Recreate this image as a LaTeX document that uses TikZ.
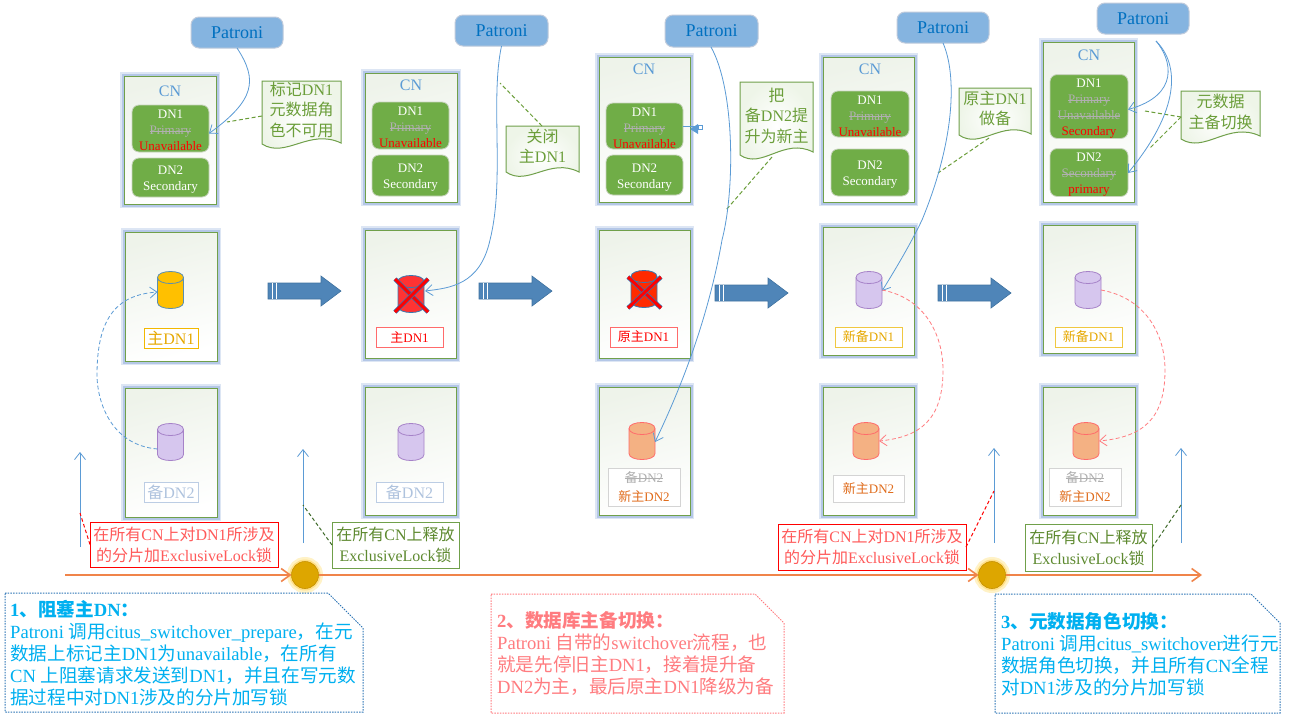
\documentclass[tikz,border=0pt]{standalone}
\usepackage{fontspec}
\setmainfont{Liberation Serif}
\newfontfamily\cjkf{Noto Sans CJK SC}
\usetikzlibrary{arrows.meta,calc}
\newcommand\cj[1]{{\cjkf #1}}
\newcommand\strk[1]{\leavevmode\setbox0=\hbox{#1}\rlap{\raisebox{0.24em}{\rule{\wd0}{0.07em}}}\box0\relax}
\newcommand\dnstrut{\rule{0pt}{13pt}}
\newcommand\bx[7]{\node[#1,minimum width={(#5-#3)*1pt},minimum height={(#6-#4)*1pt},inner sep=0pt,outer sep=0pt] (#2) at ({(#3+#5)/2},{(#4+#6)/2}) {#7};}
\newcommand\hx[1]{\definecolor{#1}{HTML}{#1}}
\hx{EEF3EA}\hx{FAFBF9}\hx{85B4E0}\hx{BFCBDC}\hx{0070C0}\hx{C8D4BE}\hx{EEF5E8}\hx{3F72A0}\hx{DDA600}\hx{C49000}\hx{FFE9A0}\hx{FFE08A}\hx{2E75B6}\hx{5B8FB0}\hx{FFC000}\hx{A682C8}\hx{D6C6EE}\hx{3A78B0}\hx{FF3333}\hx{FF2A00}\hx{FF6B6B}\hx{F4B183}\hx{F2B800}\hx{E6A800}\hx{BCCDE4}\hx{AFC3DE}\hx{D4D4D4}\hx{E06C1C}\hx{F0C840}\hx{FF5A5A}\hx{5E8A30}
\definecolor{glow}{HTML}{B4C7E7}
\definecolor{pgreen}{HTML}{70A04A}
\definecolor{dngreen}{HTML}{70AD47}
\definecolor{notetxt}{HTML}{6B9E3A}
\definecolor{linkblue}{HTML}{5B9BD5}
\definecolor{pink}{HTML}{FF7C80}
\definecolor{sky}{HTML}{00B0F0}
\definecolor{strikegray}{HTML}{B0B0B0}
\definecolor{orangeline}{HTML}{F0844A}
\definecolor{arrowblue}{HTML}{4F85B8}
\definecolor{deepgreen}{HTML}{3F6B2A}
\tikzset{
 panel/.style={draw=pgreen,line width=1pt,top color=EEF3EA,middle color=FAFBF9,bottom color=white,shading angle=15,
   preaction={draw=glow!45,line width=8.5pt},preaction={draw=glow,line width=5pt}},
 patroni/.style={rounded corners=8pt,fill=85B4E0,draw=BFCBDC,line width=1pt,text=0070C0,
   font=\fontsize{18}{20}\selectfont},
 dnbox/.style={rounded corners=7pt,fill=dngreen,draw=C8D4BE,line width=.8pt,text=white,align=center,
   font=\fontsize{13}{16}\selectfont},
 cntext/.style={text=linkblue,font=\fontsize{16}{18}\selectfont,inner sep=0pt},
 lbl/.style={line width=1pt,fill=white,align=center,font=\fontsize{13}{19}\selectfont},
 cylbase/.style={minimum width=26pt,minimum height=37pt,inner sep=0pt,outer sep=0pt},
 lock/.style={line width=1pt,fill=white,align=center,font=\fontsize{16}{21}\selectfont},
 link/.style={draw=linkblue,line width=.8pt,-{Straight Barb[length=7pt,width=11pt]}},
 leader/.style={draw=notetxt,line width=1pt,dash pattern=on 4pt off 2.5pt},
 bigarrow/.style={fill=arrowblue,draw=3F72A0,line width=.6pt},
 notebox/.style={draw=pgreen,line width=1pt,inner color=white,outer color=EEF5E8},
 notetext/.style={text=notetxt,align=center,inner sep=0pt,font=\fontsize{16}{20.5}\selectfont},
 callout/.style={line width=1pt,dash pattern=on 1.5pt off 1.2pt},
 callouttext/.style={align=left,anchor=north west,inner sep=0pt,font=\fontsize{18.6}{22}\selectfont},
 timeline/.style={draw=orangeline,line width=1.6pt,-{Straight Barb[length=9pt,width=13pt]}},
 stopdot/.style={circle,fill=DDA600,draw=C49000,line width=.6pt,minimum size=27pt,inner sep=0pt,outer sep=0pt,
   preaction={draw=FFE9A0!60,line width=9pt},preaction={draw=FFE08A,line width=4pt}},
 cross/.style={draw=red,line width=3pt,preaction={draw=2E75B6,line width=4.4pt}},
}
\newcommand\note[7]{\draw[notebox] (#2,#3) -- (#4,#3) -- (#4,#6) .. controls ({#4-0.4*(#4-#2)},{#6-15}) and ({#2+0.3*(#4-#2)},{#5+15}) .. (#2,#5) -- cycle;
 \node[notetext] (#1) at ({(#2+#4)/2},{(#3+#5)/2-3}) {#7};}
% name, cx, cy, fill, stroke
\newcommand\cyl[5]{\node[cylbase] (#1) at (#2,#3) {};
 \draw[draw=#5,fill=#4,line width=.8pt] ({#2-13},{#3-12.5}) -- ({#2-13},{#3+12.5}) .. controls ({#2-13},{#3+20.5}) and ({#2+13},{#3+20.5}) .. ({#2+13},{#3+12.5}) -- ({#2+13},{#3-12.5}) .. controls ({#2+13},{#3-20.5}) and ({#2-13},{#3-20.5}) .. cycle;
 \draw[draw=#5,line width=.8pt] ({#2-13},{#3-12.5}) .. controls ({#2-13},{#3-4.5}) and ({#2+13},{#3-4.5}) .. ({#2+13},{#3-12.5});}
\begin{document}
\begin{tikzpicture}[x=1pt,y=-1pt]
\useasboundingbox (0,0) rectangle (1289,718);
\fill[white] (0,0) rectangle (1289,718);

% Patroni
\bx{patroni}{p1}{191}{17}{283}{48}{Patroni\hspace{4pt}}
\bx{patroni}{p2}{455}{15}{548}{46}{Patroni\hspace{4pt}}
\bx{patroni}{p3}{665}{15}{758}{47}{Patroni\hspace{4pt}}
\bx{patroni}{p4}{897}{12}{989}{43}{Patroni\hspace{4pt}}
\bx{patroni}{p5}{1097}{3}{1189}{34}{Patroni\hspace{4pt}}

% CN panels
\bx{panel}{cn1}{124}{76}{216}{204}{}
\bx{panel}{cn2}{365}{73}{457}{202}{}
\bx{panel}{cn3}{599}{57}{690}{202}{}
\bx{panel}{cn4}{823}{57}{914}{202}{}
\bx{panel}{cn5}{1043}{42}{1134}{202}{}
\node[cntext] (cnt1) at (170,91) {CN};
\node[cntext] (cnt2) at (411,85) {CN};
\node[cntext] (cnt3) at (644,69) {CN};
\node[cntext] (cnt4) at (870,69) {CN};
\node[cntext] (cnt5) at (1089,55) {CN};

% DN boxes
\bx{dnbox}{a1}{132}{105}{209}{152}{\dnstrut DN1\\\textcolor{strikegray}{\strk{Primary}}\\\textcolor{red}{Unavailable}}
\bx{dnbox}{b1}{132}{158}{209}{197}{\dnstrut DN2\\Secondary}
\bx{dnbox}{a2}{372}{102}{449}{149}{\dnstrut DN1\\\textcolor{strikegray}{\strk{Primary}}\\\textcolor{red}{Unavailable}}
\bx{dnbox}{b2}{372}{155}{449}{196}{\dnstrut DN2\\Secondary}
\bx{dnbox}{a3}{606}{103}{683}{149}{\dnstrut DN1\\\textcolor{strikegray}{\strk{Primary}}\\\textcolor{red}{Unavailable}}
\bx{dnbox}{b3}{606}{155}{683}{195}{\dnstrut DN2\\Secondary}
\bx{dnbox}{a4}{831}{91}{909}{137}{\dnstrut DN1\\\textcolor{strikegray}{\strk{Primary}}\\\textcolor{red}{Unavailable}}
\bx{dnbox}{b4}{831}{149}{909}{196}{\dnstrut DN2\\Secondary}
\bx{dnbox}{a5}{1050}{76}{1128}{137}{\dnstrut DN1\\\textcolor{strikegray}{\strk{Primary}}\\\textcolor{strikegray}{\strk{Unavailable}}\\\textcolor{red}{Secondary}}
\bx{dnbox}{b5}{1050}{149}{1128}{196}{\dnstrut DN2\\\textcolor{strikegray}{\strk{Secondary}}\\\textcolor{red}{primary}}

% data panels
\bx{panel}{t1}{125}{232}{217}{361}{}
\bx{panel}{d1}{125}{388}{217}{517}{}
\bx{panel}{t2}{365}{230}{456}{358}{}
\bx{panel}{d2}{365}{387}{456}{515}{}
\bx{panel}{t3}{599}{230}{690}{358}{}
\bx{panel}{d3}{599}{387}{690}{515}{}
\bx{panel}{t4}{823}{227}{914}{355}{}
\bx{panel}{d4}{823}{387}{914}{515}{}
\bx{panel}{t5}{1043}{225}{1135}{353}{}
\bx{panel}{d5}{1043}{387}{1135}{515}{}

% cylinders
\cyl{ct1}{170.5}{290}{FFC000}{5B8FB0}
\cyl{cd1}{170.5}{442}{D6C6EE}{A682C8}
\cyl{ct2}{411}{294}{FF3333}{3A78B0}
\cyl{cd2}{411}{442}{D6C6EE}{A682C8}
\cyl{ct3}{644}{289}{FF2A00}{3A78B0}
\cyl{cd3}{642}{441}{F4B183}{FF6B6B}
\cyl{ct4}{869}{290}{D6C6EE}{A682C8}
\cyl{cd4}{866}{441}{F4B183}{FF6B6B}
\cyl{ct5}{1088}{290}{D6C6EE}{A682C8}
\cyl{cd5}{1086}{441}{F4B183}{FF6B6B}
\draw[cross] (395,279) -- (428,312);
\draw[cross] (428,279) -- (395,312);
\draw[cross] (628,277) -- (661,308);
\draw[cross] (661,277) -- (628,308);

% labels
\bx{lbl,draw=F2B800,text=E6A800,font=\fontsize{16}{19}\selectfont}{l1}{144}{328}{198}{348}{\cj{主}DN1}
\bx{lbl,draw=BCCDE4,text=AFC3DE,font=\fontsize{16}{19}\selectfont}{m1}{144}{482}{198}{502}{\cj{备}DN2}
\bx{lbl,draw=FF6B6B,text=red}{l2}{376}{327}{443}{347}{\cj{主}DN1}
\bx{lbl,draw=BCCDE4,text=AFC3DE,font=\fontsize{16}{19}\selectfont}{m2}{376}{482}{443}{502}{\cj{备}DN2}
\bx{lbl,draw=FF6B6B,text=red}{l3}{610}{327}{677}{347}{\cj{原主}DN1}
\bx{lbl,draw=D4D4D4}{m3}{608}{468}{680}{506}{\textcolor{strikegray}{\strk{\cj{备}DN2}}\\\textcolor{E06C1C}{\cj{新主}DN2}}
\bx{lbl,draw=F0C840,text=E6A800}{l4}{835}{327}{902}{347}{\cj{新备}DN1}
\bx{lbl,draw=D4D4D4,text=E06C1C}{m4}{833}{475}{904}{502}{\cj{新主}DN2}
\bx{lbl,draw=F0C840,text=E6A800}{l5}{1055}{327}{1122}{347}{\cj{新备}DN1}
\bx{lbl,draw=D4D4D4}{m5}{1049}{468}{1121}{506}{\textcolor{strikegray}{\strk{\cj{备}DN2}}\\\textcolor{E06C1C}{\cj{新主}DN2}}

% big arrows
\foreach \ax/\ay in {268/291,479/291,715/293,938/293}{
 \draw[bigarrow] (\ax,\ay-8) -- (\ax+53,\ay-8) -- (\ax+53,\ay-15) -- (\ax+73,\ay) -- (\ax+53,\ay+15) -- (\ax+53,\ay+8) -- (\ax,\ay+8) -- cycle;
 \draw[white,line width=.7pt] (\ax+4,\ay-8) -- (\ax+4,\ay+8) (\ax+8.5,\ay-8) -- (\ax+8.5,\ay+8);
}

% notes
\note{n1}{262}{81}{341}{144}{143}{\cj{标记}DN1\\\cj{元数据角}\\\cj{色不可用}}
\note{n2}{506}{126}{579}{172}{172}{\cj{关闭}\\\cj{主}DN1}
\note{n3}{740}{82}{813}{155}{152}{\cj{把}\\\cj{备}DN2\cj{提}\\\cj{升为新主}}
\note{n4}{959}{88}{1031}{135}{134}{\cj{原主}DN1\\\cj{做备}}
\note{n5}{1181}{91}{1260}{139}{136}{\cj{元数据}\\\cj{主备切换}}

% free ends
\coordinate (e2) at (425,291);
\coordinate (e3) at (655,442);
\coordinate (e4) at (882,291);
\coordinate (l1a) at (227,122);
\coordinate (l2a) at (500,83);
\coordinate (l3a) at (726,210);
\coordinate (l4a) at (938,173);
\coordinate (l5a) at (1145,111);
\coordinate (l5b) at (1150,148);
\coordinate (n1c) at (262,116);
\coordinate (n2c) at (542,126);
\coordinate (n3c) at (772,157);
\coordinate (n4c) at (989,138);
\coordinate (n5c) at (1181,117);

% leaders
\draw[leader] (n1c) -- (l1a);
\draw[leader] (n2c) -- (l2a);
\draw[leader] (n3c) -- (l3a);
\draw[leader] (n4c) -- (l4a);
\draw[leader] (n5c) -- (l5a);
\draw[leader] (n5c) -- (l5b);

% Patroni links
\draw[link] (p1.south) .. controls (258,80) and (255,100) .. ([yshift=-5pt]a1.east);
\draw[link] (p2.south) .. controls (490,100) and (505,180) .. (490,240) .. controls (480,285) and (450,288) .. (e2);
\draw[link] ([xshift=-0.5pt]p3.south) .. controls (735,90) and (735,190) .. (722,240) .. controls (708,320) and (680,390) .. (e3);
\draw[link] (p4.south) .. controls (957,75) and (955,140) .. (922,220) .. controls (910,245) and (895,270) .. (e4);
\coordinate (p5o) at (1156,41);
\draw[link] (p5o) .. controls (1172,60) and (1180,95) .. ([yshift=-3pt]a5.east);
\draw[link] (p5o) .. controls (1180,65) and (1180,110) .. ([yshift=-0.5pt]b5.east);
% small marker beside DN1 in the third column
\draw[draw=linkblue,line width=.8pt] (a3.east) -- (701,126);
\fill[linkblue] (690,129) -- (698,124) -- (698,134) -- cycle;
\draw[draw=linkblue,fill=white,line width=.8pt] (698,125) rectangle (702,129);

% replication curves
\draw[link,dash pattern=on 4pt off 2.5pt] ([yshift=-7pt]cd1.west) .. controls (110,445) and (97,400) .. (97,375) .. controls (97,320) and (115,295) .. ([yshift=-2pt]ct1.west);
\draw[link,draw=pink,dash pattern=on 4pt off 2.5pt] (ct4.east) .. controls (925,298) and (943,335) .. (943,370) .. controls (943,420) and (920,437) .. (cd4.east);
\draw[link,draw=pink,dash pattern=on 4pt off 2.5pt] (ct5.east) .. controls (1146,298) and (1165,335) .. (1165,370) .. controls (1165,420) and (1142,437) .. (cd5.east);

% lock boxes
\bx{lock,draw=red,text=FF5A5A}{k1}{90}{522}{278}{567}{\cj{在所有}CN\cj{上对}DN1\cj{所涉及}\\\cj{的分片加}ExclusiveLock\cj{锁}}
\bx{lock,draw=pgreen,text=5E8A30}{k2}{332}{522}{459}{568}{\cj{在所有}CN\cj{上释放}\\ExclusiveLock\cj{锁}}
\bx{lock,draw=red,text=FF5A5A}{k3}{778}{524}{966}{570}{\cj{在所有}CN\cj{上对}DN1\cj{所涉及}\\\cj{的分片加}ExclusiveLock\cj{锁}}
\bx{lock,draw=pgreen,text=5E8A30}{k4}{1025}{524}{1152}{571}{\cj{在所有}CN\cj{上释放}\\ExclusiveLock\cj{锁}}

% up arrows
\coordinate (u1s) at (80,547); \coordinate (u1e) at (80,452);
\coordinate (u2s) at (303,543); \coordinate (u2e) at (303,449);
\coordinate (u3s) at (994,543); \coordinate (u3e) at (994,448);
\coordinate (u4s) at (1181,543); \coordinate (u4e) at (1181,448);
\draw[link] (u1s) -- (u1e);
\draw[link] (u2s) -- (u2e);
\draw[link] (u3s) -- (u3e);
\draw[link] (u4s) -- (u4e);
\coordinate (q1) at (80,513); \coordinate (q2) at (303,505); \coordinate (q3) at (994,491); \coordinate (q4) at (1181,505);
\draw[line width=1pt,dash pattern=on 3.5pt off 2.5pt,draw=red] (k1.west) -- (q1);
\draw[line width=1pt,dash pattern=on 3.5pt off 2.5pt,draw=deepgreen] (k2.west) -- (q2);
\draw[line width=1pt,dash pattern=on 3.5pt off 2.5pt,draw=red] (k3.east) -- (q3);
\draw[line width=1pt,dash pattern=on 3.5pt off 2.5pt,draw=deepgreen] (k4.east) -- (q4);

% timeline
\coordinate (t0) at (65,575);
\coordinate (tz) at (1202,575);
\node[stopdot] (s1) at (305,575) {};
\node[stopdot] (s2) at (992,575) {};
\draw[timeline] (t0) -- (s1);
\draw[timeline] (s1) -- (s2);
\draw[timeline] (s2) -- (tz);

% callouts
\draw[callout,draw=2E75B6] (5,593) -- (328,593) -- (363,628) -- (363,712) -- (5,712) -- cycle;
\node[callouttext,text=sky] (c1) at (10,600) {\textbf{1\cj{、阻塞主}DN\cj{：}}\\Patroni \cj{调用}citus\_switchover\_prepare\cj{，在元}\\\cj{数据上标记主}DN1\cj{为}unavailable\cj{，在所有}\\CN \cj{上阻塞请求发送到}DN1\cj{，并且在写元数}\\\cj{据过程中对}DN1\cj{涉及的分片加写锁}};
\draw[callout,draw=pink] (491,594) -- (755,594) -- (784,623) -- (784,713) -- (491,713) -- cycle;
\node[callouttext,text=pink] (c2) at (497,611) {\textbf{2\cj{、数据库主备切换：}}\\Patroni \cj{自带的}switchover\cj{流程，也}\\\cj{就是先停旧主}DN1\cj{，接着提升备}\\DN2\cj{为主，最后原主}DN1\cj{降级为备}};
\draw[callout,draw=2E75B6] (995,594) -- (1251,594) -- (1280,623) -- (1280,713) -- (995,713) -- cycle;
\node[callouttext,text=sky] (c3) at (1001,612) {\textbf{3\cj{、元数据角色切换：}}\\Patroni \cj{调用}citus\_switchover\cj{进行元}\\\cj{数据角色切换，并且所有}CN\cj{全程}\\\cj{对}DN1\cj{涉及的分片加写锁}};
\end{tikzpicture}
\end{document}
